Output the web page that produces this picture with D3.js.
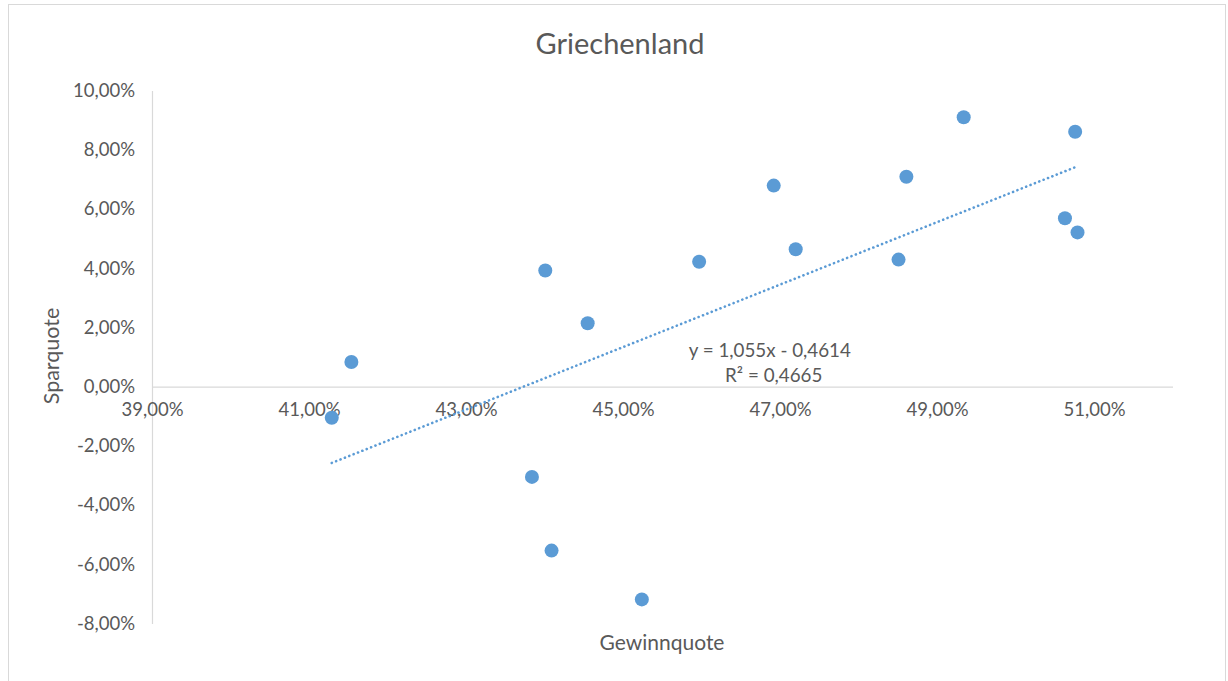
<!DOCTYPE html>
<html>
<head>
<meta charset="utf-8">
<script src="https://cdn.jsdelivr.net/npm/d3@7"></script>
<style>
  body { margin: 0; background: #fff; }
  text { font-family: Lato, "Open Sans", sans-serif; fill: #595959; }
</style>
</head>
<body>
<div id="chart"></div>
<script>
// Gewinnquote (x) vs Sparquote (y), Griechenland
var gewinnquote = [0.4129, 0.4154, 0.4384, 0.4401, 0.4409, 0.4455, 0.4524, 0.4597,
                   0.4692, 0.4720, 0.4851, 0.4861, 0.4934, 0.5063, 0.5076, 0.5079];
var sparquote   = [-0.0105, 0.0083, -0.0305, 0.0392, -0.0554, 0.0214, -0.0719, 0.0422,
                   0.0679, 0.0464, 0.0429, 0.0709, 0.0910, 0.0569, 0.0861, 0.0521];
var xTicks = [0.39, 0.41, 0.43, 0.45, 0.47, 0.49, 0.51];
var yTicks = [-0.08, -0.06, -0.04, -0.02, 0, 0.02, 0.04, 0.06, 0.08, 0.10];
var trendSlope = 1.055, trendIntercept = -0.4614;
var trendLabel = ["y = 1,055x - 0,4614", "R² = 0,4665"];

var width = 1228, height = 681;
var blue = "#5b9bd5";

var svg = d3.select("#chart").append("svg")
  .attr("width", width)
  .attr("height", height);

// chart frame
svg.append("rect")
  .attr("x", 8.5).attr("y", 4.5)
  .attr("width", 1217).attr("height", 700)
  .attr("fill", "#fff")
  .attr("stroke", "#d9d9d9");

var x = d3.scaleLinear().domain([0.39, 0.52]).range([152, 1172.5]);
var y = d3.scaleLinear().domain([-0.08, 0.10]).range([623.4, 90.6]);

// german style: comma decimal, plain hyphen for minus
var fmt = function(v) {
  return d3.format(".2f")(v * 100).replace(".", ",").replace("\u2212", "-") + "%";
};

// y axis
var yAxis = svg.append("g")
  .attr("transform", "translate(" + x(0.39) + ",0)")
  .call(d3.axisLeft(y).tickValues(yTicks).tickSize(0).tickPadding(17).tickFormat(fmt));
yAxis.select(".domain").attr("stroke", "#d9d9d9").attr("stroke-width", 1.2);
yAxis.selectAll("text").style("font-size", "18.5px").attr("fill", "#595959")
  .style("font-family", "Lato, sans-serif");

// x axis at y = 0
var xAxis = svg.append("g")
  .attr("transform", "translate(0," + y(0) + ")")
  .call(d3.axisBottom(x).tickValues(xTicks).tickSize(0).tickPadding(16).tickFormat(fmt));
xAxis.select(".domain").attr("stroke", "#d9d9d9").attr("stroke-width", 1.2);
xAxis.selectAll("text").style("font-size", "18.5px").attr("fill", "#595959")
  .style("font-family", "Lato, sans-serif");

// trendline (linear)
var x0 = d3.min(gewinnquote), x1 = d3.max(gewinnquote);
svg.append("line")
  .attr("x1", x(x0)).attr("y1", y(trendSlope * x0 + trendIntercept))
  .attr("x2", x(x1)).attr("y2", y(trendSlope * x1 + trendIntercept))
  .attr("stroke", blue)
  .attr("stroke-width", 2.6)
  .attr("stroke-dasharray", "0.1,4.6")
  .attr("stroke-linecap", "round");

// points
var pts = gewinnquote.map(function(v, i) { return {x: v, y: sparquote[i]}; });
svg.selectAll(".dot")
  .data(pts)
  .enter().append("circle")
  .attr("class", "dot")
  .attr("cx", function(d) { return x(d.x); })
  .attr("cy", function(d) { return y(d.y); })
  .attr("r", 7)
  .attr("fill", blue);

// trendline label
svg.append("text")
  .attr("x", x(0.4687)).attr("y", 357)
  .attr("text-anchor", "middle")
  .style("font-size", "18.8px")
  .text(trendLabel[0]);
svg.append("text")
  .attr("x", x(0.4692)).attr("y", 382)
  .attr("text-anchor", "middle")
  .style("font-size", "18.8px")
  .text(trendLabel[1]);

// title
svg.append("text")
  .attr("x", 620).attr("y", 54)
  .attr("text-anchor", "middle")
  .style("font-size", "29px")
  .text("Griechenland");

// axis titles
svg.append("text")
  .attr("x", 662).attr("y", 650)
  .attr("text-anchor", "middle")
  .style("font-size", "21px")
  .text("Gewinnquote");

svg.append("text")
  .attr("transform", "translate(59,356) rotate(-90)")
  .attr("text-anchor", "middle")
  .style("font-size", "21.5px")
  .text("Sparquote");
</script>
</body>
</html>
